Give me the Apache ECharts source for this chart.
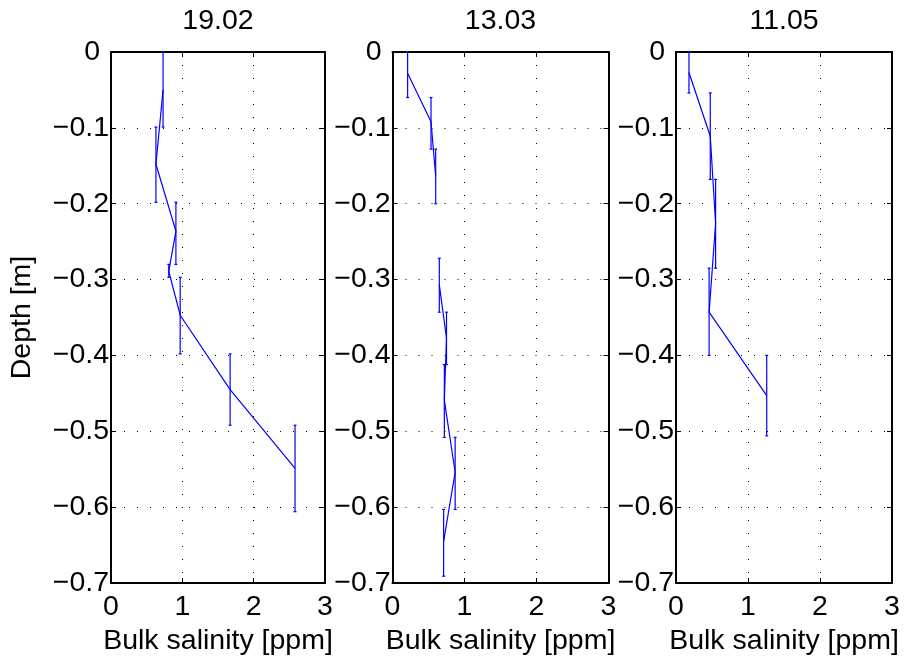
<!DOCTYPE html>
<html>
<head>
<meta charset="utf-8">
<script src="https://cdn.jsdelivr.net/npm/echarts@6/dist/echarts.min.js"></script>
<style>
html,body{margin:0;padding:0;background:#fff;}
#chart{width:904px;height:662px;}
</style>
</head>
<body>
<div id="chart"></div>
<script>
// ---- data ----
const titles = ['19.02', '13.03', '11.05'];
const xName = 'Bulk salinity [ppm]';
const yName = 'Depth [m]';
const xTicks = [0, 1, 2, 3];
const yTicks = [0, -0.1, -0.2, -0.3, -0.4, -0.5, -0.6, -0.7];

// 19.02
const sal1 = [0.73, 0.63, 0.91, 0.81, 0.97, 1.67, 2.58];
const dep1 = [-0.05, -0.148, -0.236, -0.289, -0.347, -0.445, -0.549];
const top1 = [0, -0.099, -0.198, -0.280, -0.297, -0.398, -0.492];
const bot1 = [-0.099, -0.198, -0.280, -0.297, -0.398, -0.492, -0.606];

// 13.03 (null = missing section)
const sal2 = [0.21, 0.535, 0.60, null, 0.65, 0.75, 0.72, 0.87, 0.71];
const dep2 = [-0.028, -0.092, -0.164, -0.236, -0.307, -0.377, -0.459, -0.554, -0.645];
const top2 = [0, -0.06, -0.128, null, -0.272, -0.343, -0.412, -0.508, -0.603];
const bot2 = [-0.06, -0.128, -0.2, null, -0.343, -0.412, -0.508, -0.603, -0.691];

// 11.05
const sal3 = [0.18, 0.476, 0.55, 0.46, 1.26];
const dep3 = [-0.027, -0.111, -0.226, -0.343, -0.453];
const top3 = [0, -0.054, -0.168, -0.285, -0.400];
const bot3 = [-0.054, -0.168, -0.285, -0.400, -0.506];

const panels = [
  {sal: sal1, dep: dep1, top: top1, bot: bot1},
  {sal: sal2, dep: dep2, top: top2, bot: bot2},
  {sal: sal3, dep: dep3, top: top3, bot: bot3}
];

// ---- layout ----
const gridPos = [
  {left: 111, width: 214},
  {left: 392.5, width: 216},
  {left: 676, width: 216}
];
const gridTop = 52, gridHeight = 531;
const FONT = '"Liberation Sans", Arial, Helvetica, sans-serif';
const FS = 28.5;
const BLUE = '#0000ff';

const chart = echarts.init(document.getElementById('chart'), null, {renderer: 'canvas'});

const grids = [], xAxes = [], yAxes = [], series = [];
const axisLine = {show: true, onZero: false, lineStyle: {color: '#000', width: 2}};
const tick = {show: true, inside: true, length: 5, lineStyle: {color: '#000', width: 1}};
const split = {show: true, lineStyle: {color: '#000', width: 1, type: [1, 12]}};

function yFmt(v) {
  if (Math.abs(v) < 1e-9) return '{z|0}';
  return '\u2212' + Math.abs(v).toFixed(1);
}

panels.forEach((p, g) => {
  grids.push({left: gridPos[g].left, width: gridPos[g].width, top: gridTop, height: gridHeight,
              outerBoundsMode: 'none', containLabel: false});
  // bottom x
  xAxes.push({type: 'value', gridIndex: g, position: 'bottom', min: xTicks[0], max: xTicks[xTicks.length - 1], interval: 1,
    axisLine: axisLine, axisTick: tick, splitLine: split,
    axisLabel: {show: true, margin: 10, color: '#000', fontSize: FS, fontFamily: FONT},
    name: xName, nameLocation: 'middle', nameGap: 44,
    nameTextStyle: {color: '#000', fontSize: FS, fontFamily: FONT}});
  // top x (box + title)
  xAxes.push({type: 'value', gridIndex: g, position: 'top', min: xTicks[0], max: xTicks[xTicks.length - 1], interval: 1,
    axisLine: axisLine, axisTick: tick, splitLine: {show: false}, axisLabel: {show: false},
    name: titles[g], nameLocation: 'middle', nameGap: 16,
    nameTextStyle: {color: '#000', fontSize: FS, fontFamily: FONT}});
  // left y
  yAxes.push({type: 'value', gridIndex: g, position: 'left', min: yTicks[yTicks.length - 1], max: yTicks[0], interval: 0.1,
    axisLine: axisLine, axisTick: tick, splitLine: split,
    axisLabel: {show: true, margin: 2, color: '#000', fontSize: FS, fontFamily: FONT, formatter: yFmt,
      rich: {z: {fontSize: FS, fontFamily: FONT, color: '#000', padding: [0, 9, 0, 0]}}},
    name: g === 0 ? yName : '', nameLocation: 'middle', nameGap: 74, nameRotate: 90,
    nameTextStyle: {color: '#000', fontSize: FS, fontFamily: FONT}});
  // right y
  yAxes.push({type: 'value', gridIndex: g, position: 'right', min: yTicks[yTicks.length - 1], max: yTicks[0], interval: 0.1,
    axisLine: axisLine, axisTick: tick, splitLine: {show: false}, axisLabel: {show: false}});

  const lineData = p.sal.map((s, i) => (s === null ? ['-', '-'] : [s, p.dep[i]]));
  series.push({type: 'line', xAxisIndex: 2 * g, yAxisIndex: 2 * g, data: lineData,
    symbol: 'none', connectNulls: false, animation: false, silent: true,
    lineStyle: {color: BLUE, width: 1.2}, z: 5});

  const ebData = [];
  p.sal.forEach((s, i) => { if (s !== null) ebData.push([s, p.top[i], p.bot[i]]); });
  series.push({type: 'custom', xAxisIndex: 2 * g, yAxisIndex: 2 * g, data: ebData,
    animation: false, silent: true, z: 4,
    encode: {x: 0, y: [1, 2]},
    renderItem: function (params, api) {
      const x = api.value(0), t = api.value(1), b = api.value(2);
      const p1 = api.coord([x, t]), p2 = api.coord([x, b]);
      const h = 1.5;
      const st = {stroke: BLUE, lineWidth: 1.2};
      return {type: 'group', children: [
        {type: 'line', shape: {x1: p1[0], y1: p1[1], x2: p2[0], y2: p2[1]}, style: st},
        {type: 'line', shape: {x1: p1[0] - h, y1: p1[1], x2: p1[0] + h, y2: p1[1]}, style: st},
        {type: 'line', shape: {x1: p2[0] - h, y1: p2[1], x2: p2[0] + h, y2: p2[1]}, style: st}
      ]};
    }});
});

chart.setOption({
  animation: false,
  backgroundColor: '#fff',
  textStyle: {fontFamily: FONT},
  grid: grids,
  xAxis: xAxes,
  yAxis: yAxes,
  series: series
});
</script>
</body>
</html>
